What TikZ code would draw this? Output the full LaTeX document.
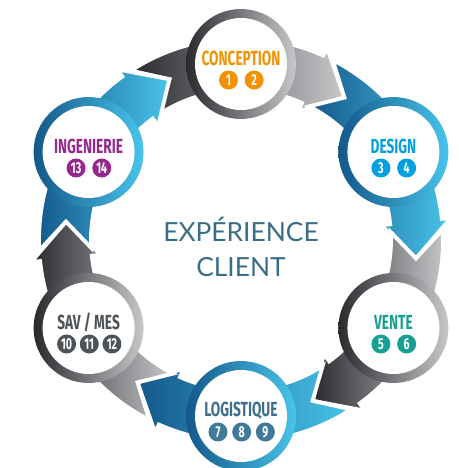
\documentclass[tikz,border=0pt]{standalone}
\usepackage{fontspec}
\newfontfamily\condfont{Fira Sans}[FakeStretch=0.67]
\newfontfamily\clientfont{Lato}
\usetikzlibrary{positioning}

\definecolor{darkgr}{RGB}{40,42,46}
\definecolor{lightgr}{RGB}{198,200,202}
\definecolor{darkbl}{RGB}{20,88,138}
\definecolor{lightbl}{RGB}{72,196,234}
\definecolor{conceptionc}{RGB}{243,146,0}
\definecolor{designc}{RGB}{0,160,227}
\definecolor{ventec}{RGB}{22,160,145}
\definecolor{logistiquec}{RGB}{62,112,142}
\definecolor{logistiquen}{RGB}{64,122,152}
\definecolor{savc}{RGB}{78,83,88}
\definecolor{ingenieriec}{RGB}{148,40,140}
\definecolor{clientc}{RGB}{58,110,133}

\begin{document}
\begin{tikzpicture}[x=0.02cm, y=0.02cm, node distance=0.08cm,
	ring/.style={circle, inner sep=0pt, minimum size=2.2cm},
	grayring/.style={ring, left color=darkgr, right color=lightgr},
	bluering/.style={ring, left color=darkbl, right color=lightbl},
	hole/.style={circle, inner sep=0pt, minimum size=1.84cm, fill=white},
	title/.style={font=\condfont\bfseries\fontsize{11.6}{13}\selectfont, inner sep=0pt},
	num/.style={circle, inner sep=0pt, minimum size=0.38cm, fill=#1, text=white, font=\condfont\bfseries\fontsize{9}{10}\selectfont}]
			\useasboundingbox (-241,-228) rectangle (218,240);
			
			% Arrows
			\foreach \a/\lc/\rc in {90/darkgr/lightgr, 30/darkbl/lightbl, -30/darkgr/lightgr, -90/darkbl/lightbl, -150/darkgr/lightgr, 150/darkbl/lightbl}
				\path [left color=\lc, right color=\rc, draw=white, line width=2.2pt]
					(\a+24:176) -- (\a+33:202) arc[start angle=\a+33, end angle=\a-24, radius=202]
					-- (\a-24:211) -- (\a-36:176) -- (\a-24:141) -- (\a-24:150)
					arc[start angle=\a-24, end angle=\a+33, radius=150] -- cycle;
			
			% Circles
			\node (conception) [grayring] at (90:176) {};
			\node [hole] at (conception) {};
			\node (conception_t) [title, text=conceptionc, yshift=0.11cm] at (conception) {CONCEPTION};
			\node (conception_n1) [num=conceptionc] at ([shift={(-12.5,-16)}]conception.center) {1};
			\node (conception_n2) [num=conceptionc, right=0.12cm of conception_n1] {2};
			
			\node (design) [bluering] at (30:176) {};
			\node [hole] at (design) {};
			\node (design_t) [title, text=designc, yshift=0.11cm] at (design) {DESIGN};
			\node (design_n1) [num=designc] at ([shift={(-12.5,-16)}]design.center) {3};
			\node (design_n2) [num=designc, right=0.12cm of design_n1] {4};
			
			\node (vente) [grayring] at (-30:176) {};
			\node [hole] at (vente) {};
			\node (vente_t) [title, text=ventec, yshift=0.11cm] at (vente) {VENTE};
			\node (vente_n1) [num=ventec] at ([shift={(-12.5,-16)}]vente.center) {5};
			\node (vente_n2) [num=ventec, right=0.12cm of vente_n1] {6};
			
			\node (logistique) [bluering] at (-90:176) {};
			\node [hole] at (logistique) {};
			\node (logistique_t) [title, text=logistiquec, yshift=0.11cm] at (logistique) {LOGISTIQUE};
			\node (logistique_n1) [num=logistiquen] at ([shift={(-23,-16)}]logistique.center) {7};
			\node (logistique_n2) [num=logistiquen, right=of logistique_n1] {8};
			\node (logistique_n3) [num=logistiquen, right=of logistique_n2] {9};
			
			\node (sav) [grayring] at (-150:176) {};
			\node [hole] at (sav) {};
			\node (sav_t) [title, text=savc, yshift=0.11cm] at (sav) {SAV / MES};
			\node (sav_n1) [num=savc] at ([shift={(-22,-16)}]sav.center) {10};
			\node (sav_n2) [num=savc, right=0.06cm of sav_n1] {11};
			\node (sav_n3) [num=savc, right=0.06cm of sav_n2] {12};
			
			\node (ingenierie) [bluering] at (150:176) {};
			\node [hole] at (ingenierie) {};
			\node (ingenierie_t) [title, text=ingenieriec, yshift=0.11cm] at (ingenierie) {INGENIERIE};
			\node (ingenierie_n1) [num=ingenieriec] at ([shift={(-12.5,-16)}]ingenierie.center) {13};
			\node (ingenierie_n2) [num=ingenieriec, right=0.12cm of ingenierie_n1] {14};
			
			% Centre
			\node (client) [align=center, text=clientc, font=\clientfont\fontsize{15}{19.5}\selectfont] at (0,-7) {EXPÉRIENCE\\CLIENT};
		\end{tikzpicture}
\end{document}
